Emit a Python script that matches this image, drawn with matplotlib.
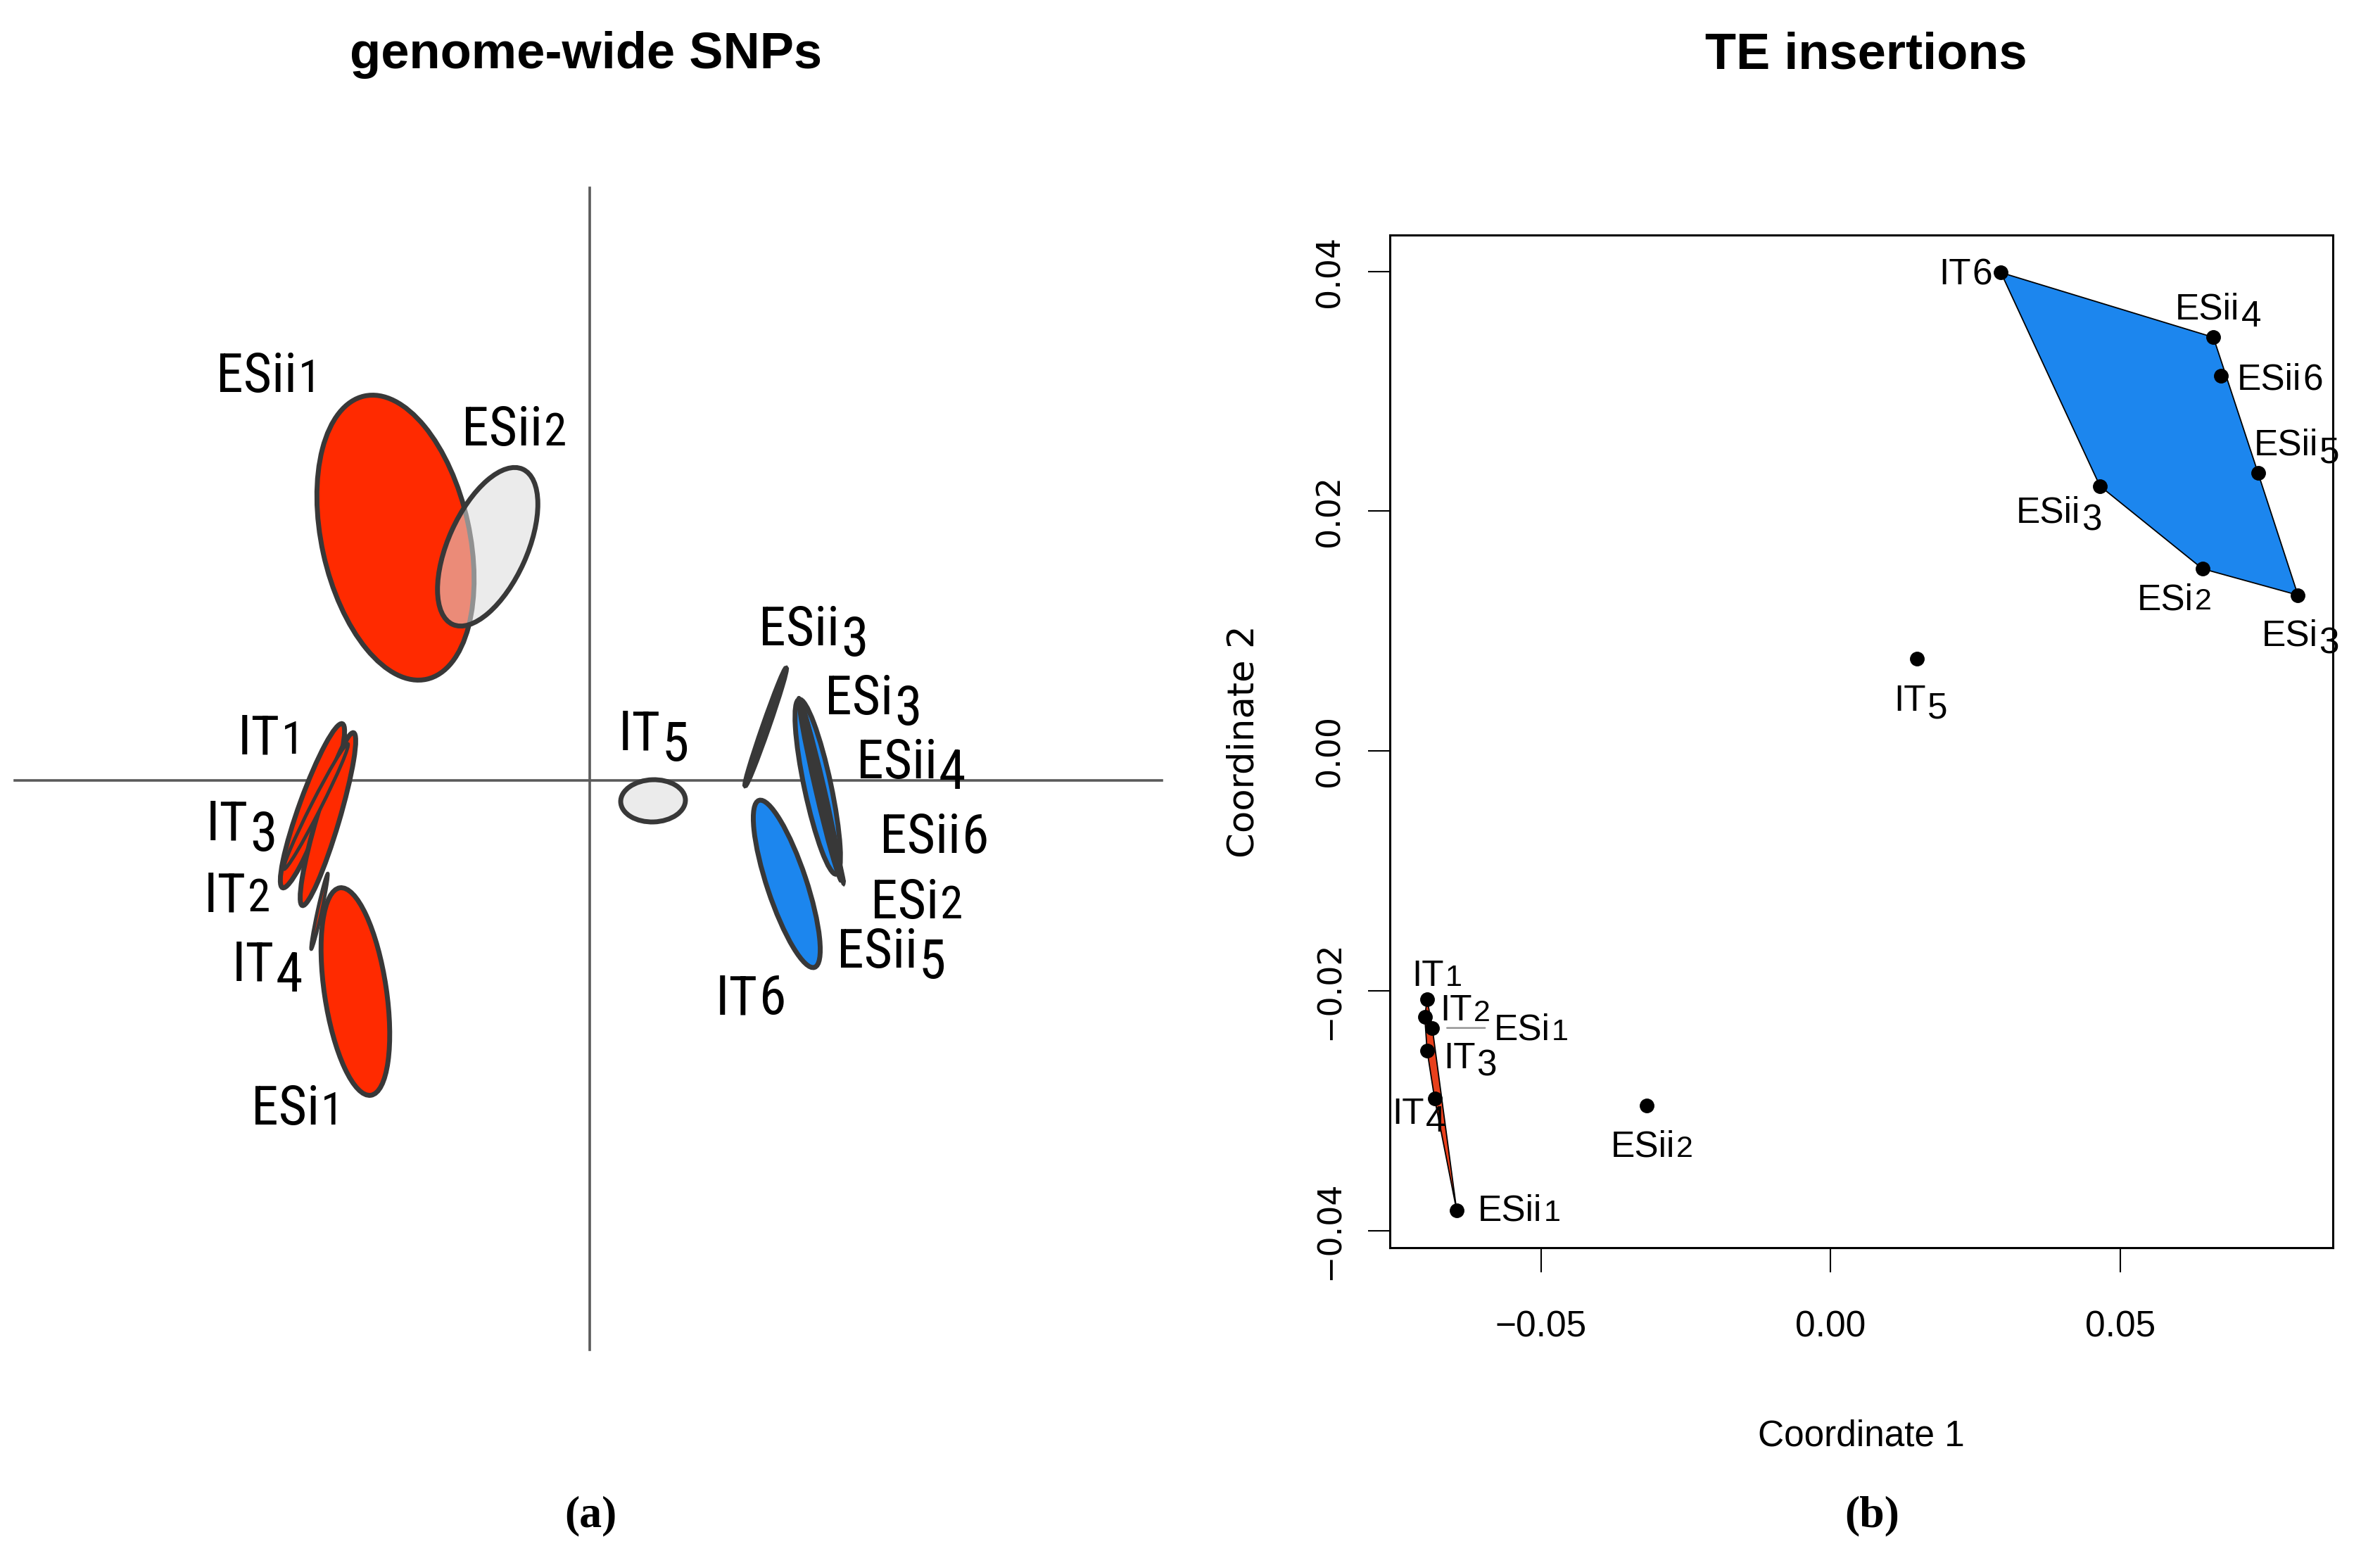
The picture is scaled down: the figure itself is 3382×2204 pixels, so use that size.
import matplotlib
matplotlib.use('Agg')
import matplotlib.pyplot as plt
from matplotlib.patches import Ellipse, Polygon
from matplotlib import font_manager

# ---------------- panel (a): genome-wide SNPs (one ellipse per sample) ----------------
snp_names = ['ESii1', 'ESii2', 'IT3', 'IT2', 'IT1', 'IT4', 'ESi1', 'IT5', 'ESii3',
             'IT6', 'ESi3', 'ESii5', 'ESii4', 'ESii6', 'ESi2']
snp_group = ['red', 'grey', 'red', 'red', 'red', 'red', 'red', 'grey', 'line',
             'blue', 'blue', 'blue', 'blue', 'blue', 'blue']
snp_x = [-2.76, -1.45, -3.94, -3.72, -3.89, -3.84, -3.33, 0.90, 2.50,
         2.80, 3.24, 3.27, 3.28, 3.29, 3.30]
snp_y = [3.45, 3.32, -0.36, -0.55, -0.37, -1.86, -3.00, -0.29, 0.76,
         -1.47, -0.09, -0.12, -0.14, -0.16, -0.18]
snp_major = [2.06, 1.21, 1.24, 1.28, 1.00, 0.55, 1.49, 0.46, 0.88,
             1.25, 1.27, 1.33, 1.32, 1.35, 1.30]
snp_minor = [1.05, 0.56, 0.18, 0.16, 0.07, 0.03, 0.44, 0.30, 0.04,
             0.28, 0.19, 0.07, 0.05, 0.035, 0.02]
snp_tilt = [12.4, -24.3, -20.0, -16.5, -27.0, -12.3, 8.5, 92.0, -19.2,
            18.4, 12.0, 13.0, 12.5, 13.5, 14.0]

# ---------------- panel (b): TE insertions (MDS coordinates) ----------------
te_names = ['IT1', 'IT2', 'IT3', 'IT4', 'IT5', 'IT6', 'ESi1', 'ESi2', 'ESi3',
            'ESii1', 'ESii2', 'ESii3', 'ESii4', 'ESii5', 'ESii6']
te_group = ['red', 'red', 'red', 'red', 'grey', 'blue', 'red', 'blue', 'blue',
            'red', 'grey', 'blue', 'blue', 'blue', 'blue']
te_x = [-0.0697, -0.0701, -0.0697, -0.0684, 0.0149, 0.0294, -0.0688, 0.0642, 0.0807,
        -0.0646, -0.0318, 0.0465, 0.0661, 0.0738, 0.0674]
te_y = [-0.0207, -0.0222, -0.0250, -0.0290, 0.0077, 0.0399, -0.0231, 0.0152, 0.0130,
        -0.0383, -0.0296, 0.0221, 0.0345, 0.0232, 0.0313]

# ---------------- layout / style ----------------
W, H, DPI = 3382, 2204, 100
FILL_A = {'red': '#FF2A00', 'grey': '#DCDCDC', 'blue': '#1C86EE', 'line': '#444444'}
ALPHA_A = {'red': 1.0, 'grey': 0.55, 'blue': 1.0, 'line': 1.0}
FILL_B = {'red': '#E8401C', 'blue': '#1C86EE'}
EDGE = '#383838'

installed = {f.name for f in font_manager.fontManager.ttflist}
NARROW = next((n for n in ('Liberation Sans Narrow', 'Roboto Condensed', 'Open Sans Condensed')
               if n in installed), None)
LAB_A_FONT = NARROW or 'Liberation Sans'
LAB_A_SIZE = 56 if NARROW else 50

# label anchor (left end of the text, on its baseline) in panel (a) units
lab_pos_a = {'ESii1': (-5.31, 5.52), 'ESii2': (-1.82, 4.76), 'IT1': (-5.00, 0.38),
             'IT3': (-5.45, -0.85), 'IT2': (-5.48, -1.86), 'IT4': (-5.08, -2.85),
             'ESi1': (-4.81, -4.89), 'IT5': (0.41, 0.43), 'ESii3': (2.40, 1.92),
             'ESi3': (3.34, 0.94), 'ESii4': (3.79, 0.03), 'ESii6': (4.12, -1.03),
             'ESi2': (3.99, -1.96), 'ESii5': (3.51, -2.66), 'IT6': (1.79, -3.32)}
# label offsets in panel (b), pixels from the point (x right, y down)
lab_off_b = {'IT1': (-22, -19), 'IT2': (22, 5), 'IT3': (23, 25), 'IT4': (-60, 36),
             'IT5': (-33, 74), 'IT6': (-88, 17), 'ESi1': (87, 17), 'ESi2': (-93, 58),
             'ESi3': (-52, 72), 'ESii1': (30, 15), 'ESii2': (-51, 72), 'ESii3': (-119, 52),
             'ESii4': (-54, -26), 'ESii5': (-6, -25), 'ESii6': (23, 20)}


def oldstyle_label(ax, name, xy, size, family, offset=(0, 0)):
    """Write a sample name with an old-style final figure (1,2 small; 3,4,5 dropped)."""
    stem, digit = name[:-1], name[-1]
    base = ax.annotate(stem, xy=xy, xytext=offset, textcoords='offset pixels',
                       ha='left', va='baseline', fontsize=size, family=family, zorder=5)
    px = size * DPI / 72.0
    dsize, drop = size, 0.0
    if digit in '12':
        dsize = size * 0.84
    elif digit in '345':
        drop = 0.2
    ax.annotate(digit, xy=(1, 0), xycoords=base, xytext=(2, (0.21 - drop) * px),
                textcoords='offset pixels', ha='left', va='baseline',
                fontsize=dsize, family=family, zorder=5)
    return base


def convex_hull(pts):
    pts = sorted(set(pts))
    if len(pts) < 3:
        return pts

    def cross(o, a, b):
        return (a[0] - o[0]) * (b[1] - o[1]) - (a[1] - o[1]) * (b[0] - o[0])

    lower, upper = [], []
    for p in pts:
        while len(lower) >= 2 and cross(lower[-2], lower[-1], p) <= 0:
            lower.pop()
        lower.append(p)
    for p in reversed(pts):
        while len(upper) >= 2 and cross(upper[-2], upper[-1], p) <= 0:
            upper.pop()
        upper.append(p)
    return lower[:-1] + upper[:-1]


fig = plt.figure(figsize=(W / DPI, H / DPI), dpi=DPI)
fig.patch.set_facecolor('white')

# ---------------- panel (a) ----------------
x0 = 838  # pixel of the axis cross
y0 = 1109
axa = fig.add_axes([0, 1 - 2050 / H, 1700 / W, 1900 / H])
axa.set_xlim((0 - x0) / 100, (1700 - x0) / 100)
axa.set_ylim((y0 - 2050) / 100, (y0 - 150) / 100)
axa.axis('off')
axa.plot([-8.17, 8.13], [0, 0], color='#5a5a5a', lw=2.6, zorder=1)
axa.plot([0, 0], [-8.09, 8.42], color='#5a5a5a', lw=2.6, zorder=1)

for i, name in enumerate(snp_names):
    g = snp_group[i]
    if g == 'line':
        lw = 5.5
    else:
        lw = 5.0 if snp_minor[i] > 0.1 else 3.5
    e = Ellipse((snp_x[i], snp_y[i]), width=2 * snp_minor[i], height=2 * snp_major[i],
                angle=snp_tilt[i], facecolor=matplotlib.colors.to_rgba(FILL_A[g], ALPHA_A[g]),
                edgecolor=EDGE, lw=lw, zorder=2 + i * 0.01)
    axa.add_patch(e)

for name in snp_names:
    oldstyle_label(axa, name, lab_pos_a[name], LAB_A_SIZE, LAB_A_FONT)

# ---------------- panel (b) ----------------
axb = fig.add_axes([1975 / W, 1 - 1773 / H, (3315 - 1975) / W, (1773 - 334) / H])
for g in ('red', 'blue'):
    pts = [(te_x[i], te_y[i]) for i in range(len(te_names)) if te_group[i] == g]
    hull = convex_hull(pts)
    axb.add_patch(Polygon(hull, closed=True, facecolor=FILL_B[g], edgecolor='black',
                          lw=1.3, zorder=1))
axb.plot(te_x, te_y, 'o', color='black', ms=14, zorder=3)
axb.margins(x=0.04, y=0.04)

for i, name in enumerate(te_names):
    dx, dy = lab_off_b[name]
    oldstyle_label(axb, name, (te_x[i], te_y[i]), 37, 'Liberation Sans', offset=(dx, -dy))

# leader line for the ESi1 label
k = te_names.index('ESi1')
axb.annotate('', xy=(te_x[k], te_y[k]), xytext=(75, 0), textcoords='offset pixels',
             arrowprops=dict(arrowstyle='-', color='#8a8a8a', lw=1.6, shrinkA=0, shrinkB=15))

axb.set_xticks([-0.05, 0.0, 0.05])
axb.set_xticklabels(['\u22120.05', '0.00', '0.05'])
axb.set_yticks([-0.04, -0.02, 0.0, 0.02, 0.04])
axb.set_yticklabels(['\u22120.04', '\u22120.02', '0.00', '0.02', '0.04'])
for s in axb.spines.values():
    s.set_linewidth(2.2)
axb.tick_params(axis='x', direction='out', length=25, width=1.5, pad=39, labelsize=37)
axb.tick_params(axis='y', direction='out', length=22, width=1.5, pad=23, labelsize=33,
                labelrotation=90)
for lbl in axb.get_xticklabels():
    lbl.set_family('Liberation Sans')
for lbl in axb.get_yticklabels():
    lbl.set_family('DejaVu Sans')
    lbl.set_va('center')
axb.set_xlabel('Coordinate 1', fontsize=37, family='Liberation Sans')
axb.xaxis.set_label_coords(0.5, (1773 - 2041) / (1773 - 334))
axb.xaxis.label.set_va('center')
axb.set_ylabel('Coordinate 2', fontsize=37, family='DejaVu Sans')
axb.yaxis.set_label_coords((1767 - 1975) / (3315 - 1975), 0.5)
axb.yaxis.label.set_va('center')

# ---------------- titles and panel letters ----------------
fig.text(833 / W, 1 - 97 / H, 'genome-wide SNPs', ha='center', va='baseline',
         fontsize=52, weight='bold', family='Liberation Sans')
fig.text(2652 / W, 1 - 97 / H, 'TE insertions', ha='center', va='baseline',
         fontsize=52, weight='bold', family='Liberation Sans')
fig.text(839 / W, 1 - 2154 / H, '(a)', ha='center', va='center',
         fontsize=46, weight='bold', family='Liberation Serif')
fig.text(2660 / W, 1 - 2154 / H, '(b)', ha='center', va='center',
         fontsize=46, weight='bold', family='Liberation Serif')

fig.savefig('out.png', dpi=DPI, facecolor='white')
